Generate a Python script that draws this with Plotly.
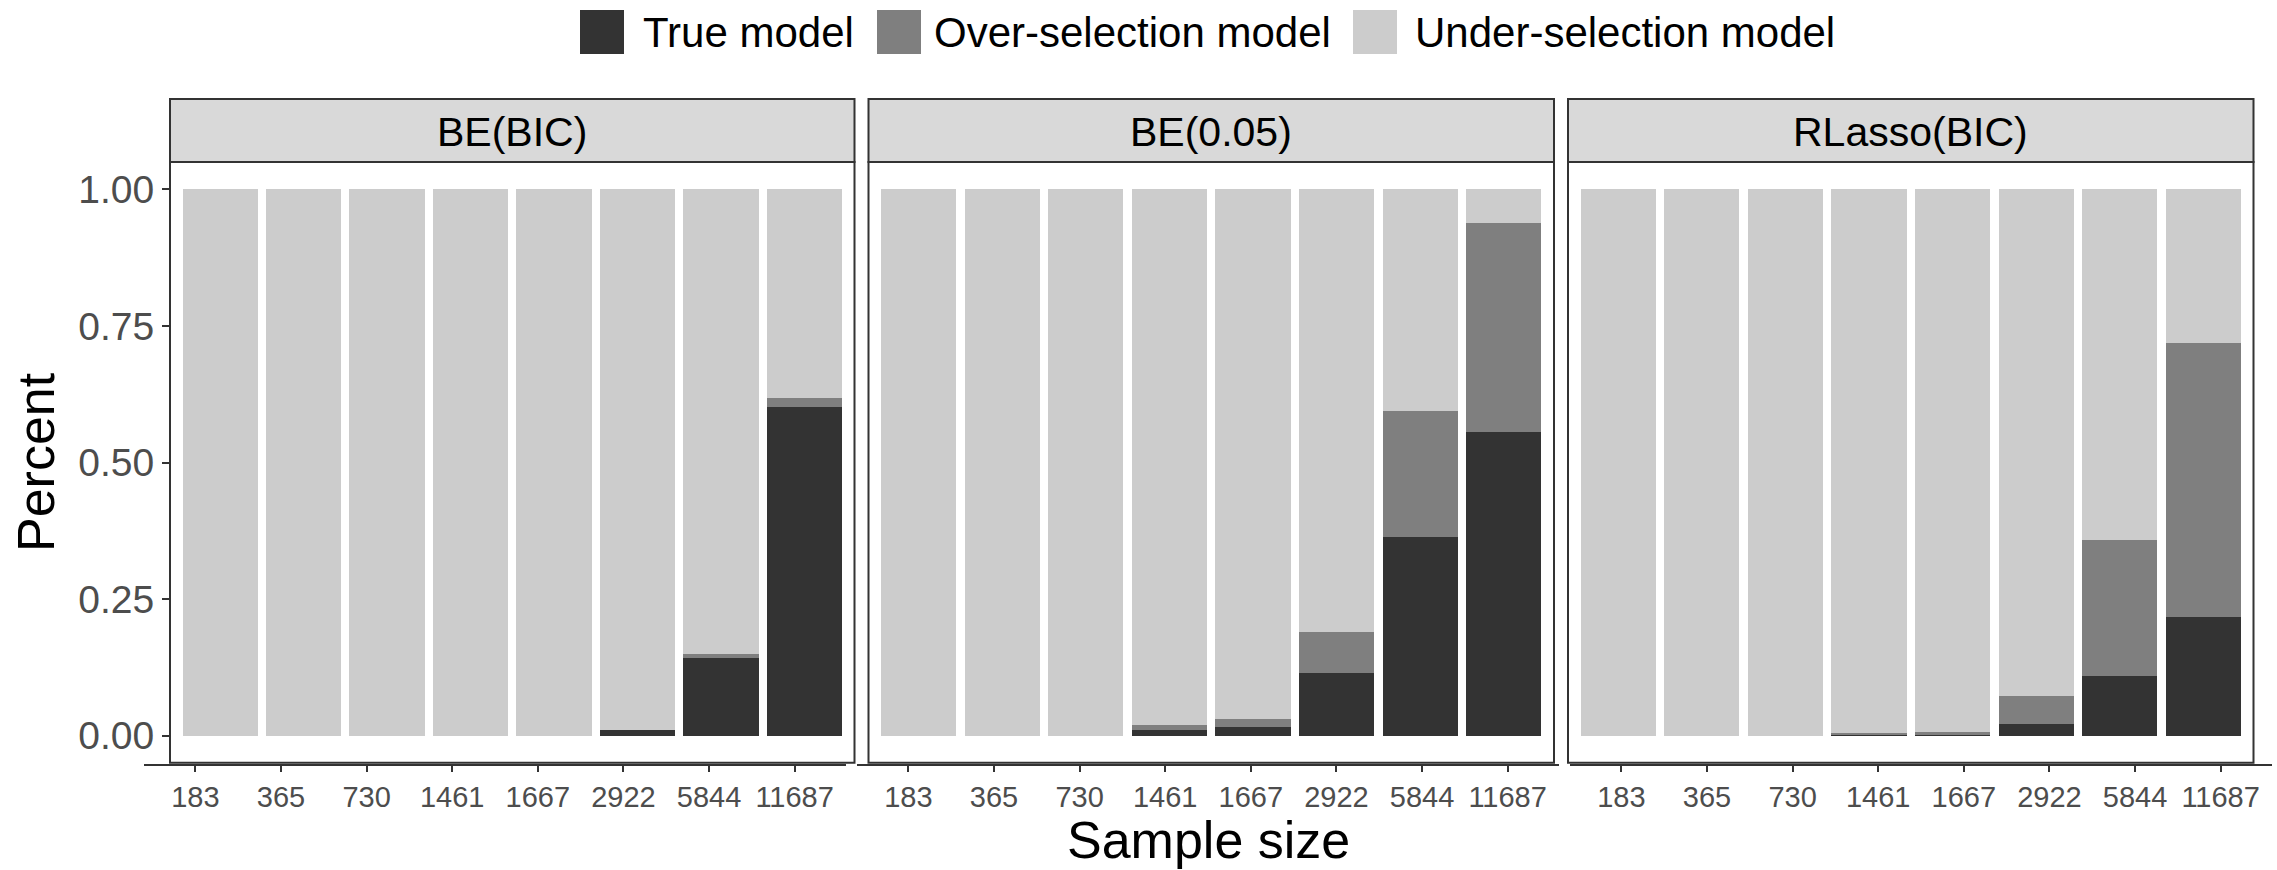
import plotly.graph_objects as go

# ---- data -----------------------------------------------------------------
sample_sizes = ["183", "365", "730", "1461", "1667", "2922", "5844", "11687"]
methods = ["BE(BIC)", "BE(0.05)", "RLasso(BIC)"]
outcomes = ["True model", "Over-selection model", "Under-selection model"]

be_bic_true = [0, 0, 0, 0, 0, 0.011, 0.143, 0.602]
be_bic_over = [0, 0, 0, 0, 0, 0, 0.006, 0.016]
be_bic_under = [1, 1, 1, 1, 1, 0.989, 0.851, 0.382]

be_005_true = [0, 0, 0, 0.010, 0.016, 0.114, 0.364, 0.555]
be_005_over = [0, 0, 0, 0.009, 0.014, 0.075, 0.230, 0.383]
be_005_under = [1, 1, 1, 0.981, 0.970, 0.811, 0.406, 0.062]

rlasso_true = [0, 0, 0, 0.002, 0.002, 0.022, 0.109, 0.218]
rlasso_over = [0, 0, 0, 0.003, 0.005, 0.050, 0.250, 0.501]
rlasso_under = [1, 1, 1, 0.995, 0.993, 0.928, 0.641, 0.281]

y_ticks = [0, 0.25, 0.5, 0.75, 1.0]
y_tick_labels = ["0.00", "0.25", "0.50", "0.75", "1.00"]

# ---- styling --------------------------------------------------------------
W, H = 2277, 870
FONT = "Liberation Sans, Arial, sans-serif"
fill_colors = ["#333333", "#7f7f7f", "#cccccc"]
strip_fill = "#d9d9d9"
frame_color = "#333333"
tick_text_color = "#4d4d4d"

def px_x(p):
    return p / W

def px_y(p):
    return (H - p) / H

# panel (bar) areas and the x-axis strips below them, in pixels
panel_px = [(170, 854.5), (868.5, 1554), (1568, 2253.5)]
xaxis_px = [(144, 846), (857, 1559), (1570, 2272)]
plot_top_px, plot_bottom_px = 162, 764
strip_top_px = 99
y_range = [-0.0518, 1.05]

series = [
    (be_bic_true, be_bic_over, be_bic_under),
    (be_005_true, be_005_over, be_005_under),
    (rlasso_true, rlasso_over, rlasso_under),
]

fig = go.Figure()
for i, vals in enumerate(series):
    sfx = "" if i == 0 else str(i + 1)
    for j, v in enumerate(vals):
        fig.add_trace(go.Bar(
            x=sample_sizes, y=v, name=outcomes[j],
            marker=dict(color=fill_colors[j], line=dict(width=0)),
            width=0.9, xaxis="x" + sfx, yaxis="y" + sfx,
            showlegend=False, hoverinfo="x+y+name",
        ))
    # empty trace so the sample-size axis under each panel gets drawn
    fig.add_trace(go.Scatter(x=[], y=[], mode="markers", xaxis="x" + str(i + 4),
                             yaxis="y" + sfx, showlegend=False, hoverinfo="skip"))

layout = dict(
    width=W, height=H,
    margin=dict(l=0, r=0, t=0, b=0),
    paper_bgcolor="white", plot_bgcolor="rgba(0,0,0,0)",
    barmode="stack",
    font=dict(family=FONT, color="black"),
)

y_dom = [px_y(plot_bottom_px), px_y(plot_top_px)]
for i in range(3):
    sfx = "" if i == 0 else str(i + 1)
    layout["xaxis" + sfx] = dict(
        domain=[px_x(panel_px[i][0]), px_x(panel_px[i][1])],
        anchor="y" + sfx, type="category",
        categoryorder="array", categoryarray=sample_sizes,
        range=[-0.6, 7.6], showticklabels=False, ticks="",
        showgrid=False, zeroline=False, showline=False, fixedrange=True,
    )
    ycfg = dict(
        domain=y_dom, anchor="x" + sfx, range=y_range,
        showgrid=False, zeroline=False, showline=False,
        tickvals=y_ticks, ticktext=y_tick_labels, fixedrange=True,
    )
    if i == 0:
        ycfg.update(ticks="outside", ticklen=7, tickwidth=2, tickcolor=frame_color,
                    showticklabels=True,
                    tickfont=dict(size=39, color=tick_text_color, family=FONT))
    else:
        ycfg.update(ticks="", showticklabels=False)
    layout["yaxis" + sfx] = ycfg

    # sample-size axis drawn beneath each panel
    layout["xaxis" + str(i + 4)] = dict(
        domain=[px_x(xaxis_px[i][0]), px_x(xaxis_px[i][1])],
        anchor="y" + sfx, side="bottom",
        range=[-0.6, 7.6], tickvals=list(range(len(sample_sizes))),
        ticktext=sample_sizes,
        showline=True, linecolor=frame_color, linewidth=2,
        ticks="outside", ticklen=6, tickwidth=2, tickcolor=frame_color,
        tickfont=dict(size=29, color=tick_text_color, family=FONT),
        showgrid=False, zeroline=False, fixedrange=True,
    )

shapes = []
annotations = []
for i in range(3):
    sfx = "" if i == 0 else str(i + 1)
    # panel frame
    shapes.append(dict(type="rect", xref="x%s domain" % sfx, yref="y%s domain" % sfx,
                       x0=0, x1=1, y0=0.002, y1=1,
                       line=dict(color=frame_color, width=2), fillcolor="rgba(0,0,0,0)",
                       layer="above"))
    # facet strip
    shapes.append(dict(type="rect", xref="x%s domain" % sfx, yref="paper",
                       x0=0, x1=1, y0=px_y(plot_top_px), y1=px_y(strip_top_px),
                       line=dict(color=frame_color, width=2), fillcolor=strip_fill,
                       layer="above"))
    annotations.append(dict(text=methods[i], xref="x%s domain" % sfx, yref="paper",
                            x=0.5, y=px_y(131.5), xanchor="center", yanchor="middle",
                            showarrow=False, font=dict(size=41, color="black", family=FONT)))

# legend across the top
legend_keys_px = [(580, 624), (877, 921), (1353, 1397)]
legend_text_px = [641, 932, 1413]
for k in range(3):
    shapes.append(dict(type="rect", xref="paper", yref="paper",
                       x0=px_x(legend_keys_px[k][0]), x1=px_x(legend_keys_px[k][1]),
                       y0=px_y(54), y1=px_y(10),
                       line=dict(width=0), fillcolor=fill_colors[k]))
    annotations.append(dict(text=outcomes[k], xref="paper", yref="paper",
                            x=px_x(legend_text_px[k]), y=px_y(32.5),
                            xanchor="left", yanchor="middle", showarrow=False,
                            font=dict(size=42, color="black", family=FONT)))

# axis titles
annotations.append(dict(text="Sample size", xref="paper", yref="paper",
                        x=px_x(1208), y=px_y(840), xanchor="center", yanchor="middle",
                        showarrow=False, font=dict(size=52, color="black", family=FONT)))
annotations.append(dict(text="Percent", xref="paper", yref="paper",
                        x=px_x(36), y=px_y(462), xanchor="center", yanchor="middle",
                        textangle=-90, showarrow=False,
                        font=dict(size=52, color="black", family=FONT)))

layout["shapes"] = shapes
layout["annotations"] = annotations
fig.update_layout(**layout)

fig.write_html("out.html")
